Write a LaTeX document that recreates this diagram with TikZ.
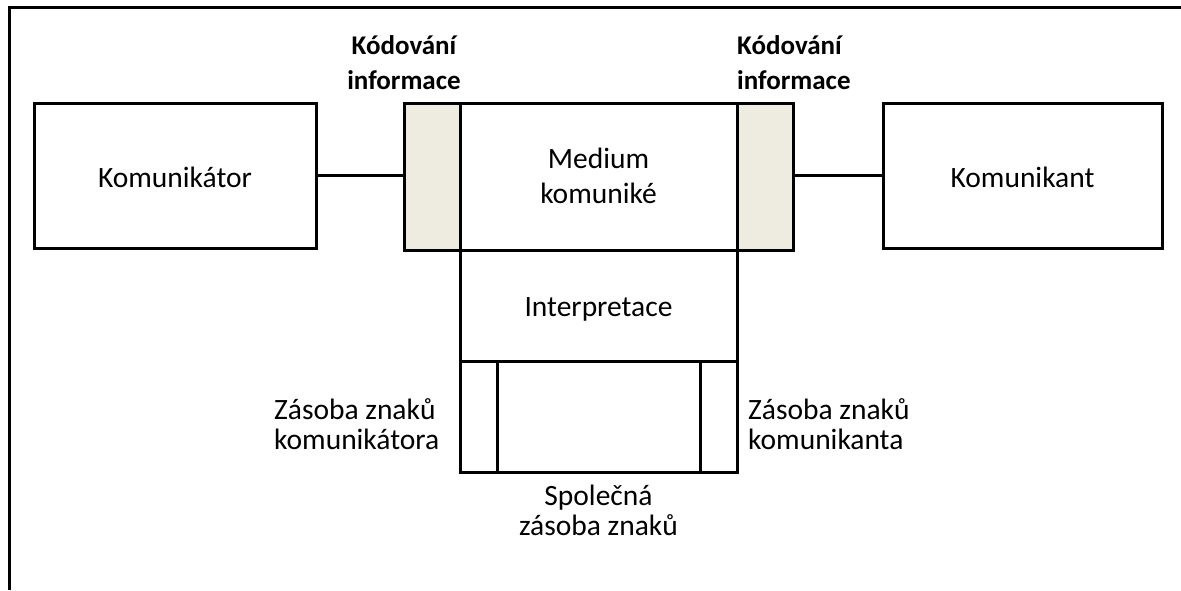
\documentclass[tikz,border=0pt]{standalone}
\usepackage{fontspec}
\setmainfont{Carlito}
\definecolor{codefill}{HTML}{EEECE1}
\begin{document}
\begin{tikzpicture}[x=1pt,y=-1pt,
  box/.style={draw=black,line width=3pt,rectangle,outer sep=0pt,inner sep=0pt,anchor=north west},
  codebox/.style={box,fill=codefill},
  lbl/.style={font=\fontsize{29.5}{35}\selectfont,align=center,inner sep=0pt,anchor=base},
  tight/.style={font=\fontsize{29.5}{29.5}\selectfont},
  hdr/.style={font=\fontsize{27}{35}\selectfont\bfseries,align=center,inner sep=0pt,anchor=base},
  link/.style={line width=3pt}]
\useasboundingbox (0,0) rectangle (1181,590);
% frame edges
\draw[line width=3pt] (9,590) -- (9,7) -- (1181,7);
% main row
\node[box,minimum width=282pt,minimum height=145pt] (kor) at (34,103) {};
\node[codebox,minimum width=56pt,minimum height=147pt] (kodL) at (404,103) {};
\node[box,minimum width=277pt,minimum height=147pt] (med) at (460,103) {};
\node[codebox,minimum width=56pt,minimum height=147pt] (kodR) at (737,103) {};
\node[box,minimum width=279pt,minimum height=145pt] (kant) at (883,103) {};
% lower stack
\node[box,minimum width=277pt,minimum height=111pt] (interp) at (460,250) {};
\node[box,minimum width=37pt,minimum height=111pt] (zasL) at (460,361) {};
\node[box,minimum width=203pt,minimum height=111pt] (zasM) at (497,361) {};
\node[box,minimum width=37pt,minimum height=111pt] (zasR) at (700,361) {};
% connectors
\draw[link] (kor.east) -- (kodL.west |- kor.east);
\draw[link] (kodR.east |- kant.west) -- (kant.west);
% texts (multi-line nodes sit on the baseline of their last line)
\node[lbl] at (175,187) {Komunikátor};
\node[lbl] at (1022.5,187) {Komunikant};
\node[lbl] at (598.5,203) {Medium\\komuniké};
\node[lbl] at (598.5,316) {Interpretace};
\node[hdr] (hL) at (404,89) {Kódování\\informace};
\node[hdr,align=left,anchor=base west] (hR) at (737,89) {Kódování\\informace};
\node[lbl,tight,align=left,anchor=base west] (tL) at (274,449) {Zásoba znaků\\komunikátora};
\node[lbl,tight,align=left,anchor=base west] (tR) at (748,449) {Zásoba znaků\\komunikanta};
\node[lbl,tight] (tM) at (598.5,535) {Společná\\zásoba znaků};
\end{tikzpicture}
\end{document}
